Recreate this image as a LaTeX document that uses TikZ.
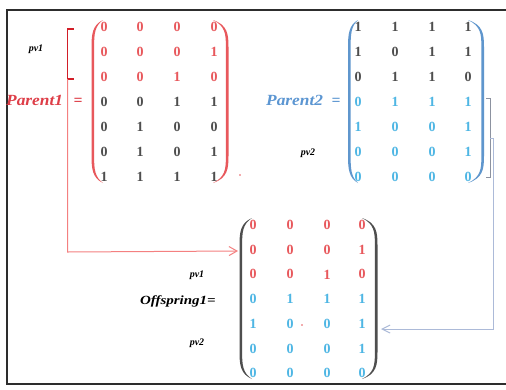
\documentclass[tikz,border=0pt]{standalone}
\usepackage{fontspec}
\setmainfont{Liberation Serif}
\usetikzlibrary{arrows.meta}
\definecolor{dred}{RGB}{232,88,92}
\definecolor{lred}{RGB}{222,62,72}
\definecolor{brred}{RGB}{210,30,40}
\definecolor{arred}{RGB}{244,128,128}
\definecolor{dgray}{RGB}{78,78,78}
\definecolor{dblue}{RGB}{78,182,228}
\definecolor{lblue}{RGB}{92,150,210}
\definecolor{pblue}{RGB}{95,150,205}
\definecolor{cblue}{RGB}{172,186,216}
\definecolor{bkgray}{RGB}{140,146,160}
\definecolor{frm}{RGB}{45,45,45}
\tikzset{
  dig/.style={inner sep=0pt,font=\fontsize{14}{14}\selectfont\bfseries},
  bigl/.style={inner sep=0pt,font=\fontsize{15.5}{15.5}\selectfont\bfseries\itshape},
  smalll/.style={inner sep=0pt,font=\fontsize{10}{10}\selectfont\bfseries\itshape,text=black},
  frameline/.style={draw=frm,line width=1.6pt},
  conn/.style={line width=1pt},
}
\newcommand\drawmat[5]{%
  \foreach \r/\a/\b/\c/\d/\cl in {#5} {
    \foreach \v [count=\j] in {\a,\b,\c,\d} {
      \pgfmathsetmacro\xx{{#2}[\j-1]}
      \node[dig,text=\cl] (#1-\r-\j) at (\xx,{#3+(\r-1)*#4}) {\v};
    }
  }%
}
% paren: #1 tip x, #2 bulge x, #3 top y, #4 bottom y, #5 colour, #6 direction (1 left, -1 right)
\newcommand\mparen[6]{%
  \fill[#5] (#1,#3) .. controls ({#2+#6*1},{#3+5}) and (#2,{#3+14}) .. (#2,{#3+27})
    -- (#2,{#4-27}) .. controls (#2,{#4-14}) and ({#2+#6*1},{#4-5}) .. (#1,#4)
    .. controls ({#2+#6*3.2},{#4-6}) and ({#2+#6*2.6},{#4-14}) .. ({#2+#6*2.6},{#4-27})
    -- ({#2+#6*2.6},{#3+27}) .. controls ({#2+#6*2.6},{#3+14}) and ({#2+#6*3.2},{#3+6}) .. cycle;%
}
\begin{document}
\begin{tikzpicture}[x=1pt,y=-1pt]
\useasboundingbox (0,0) rectangle (506,389);
\fill[white] (0,0) rectangle (506,389);
\draw[frameline] (506,10) -- (7,10) -- (7,384) -- (506,384);

% Parent1
\drawmat{pa}{104,140,177,214}{27}{25}{1/0/0/0/0/dred,2/0/0/0/1/dred,3/0/0/1/0/dred,4/0/0/1/1/dgray,5/0/1/0/0/dgray,6/0/1/0/1/dgray,7/1/1/1/1/dgray}
\mparen{103}{91.5}{20}{183}{dred}{1}
\mparen{213}{228.5}{20}{183}{dred}{-1}
% Parent2
\drawmat{pb}{358,395,432,468}{27}{25}{1/1/1/1/1/dgray,2/1/0/1/1/dgray,3/0/1/1/0/dgray,4/0/1/1/1/dblue,5/1/0/0/1/dblue,6/0/0/0/1/dblue,7/0/0/0/0/dblue}
\mparen{358}{348}{20}{183}{pblue}{1}
\mparen{468}{484}{20}{183}{pblue}{-1}
% Offspring1
\drawmat{po}{253,290,327,362}{225}{24.7}{1/0/0/0/0/dred,2/0/0/0/1/dred,3/0/0/1/0/dred,4/0/1/1/1/dblue,5/1/0/0/1/dblue,6/0/0/0/1/dblue,7/0/0/0/0/dblue}
\mparen{252}{239.5}{218}{379}{dgray}{1}
\mparen{362}{377.5}{218}{379}{dgray}{-1}

% labels
\node[smalll,anchor=base] (pv1a) at (36,51) {pv1};
\node[bigl,text=lred,anchor=base west] (lp1) at (6,105) {\scalebox{1.12}[1]{Parent1}};
\node[bigl,text=lred,anchor=base] (eq1) at (78,105) {=};
\node[bigl,text=lblue,anchor=base west] (lp2) at (266,105) {\scalebox{1.12}[1]{Parent2}};
\node[bigl,text=lblue,anchor=base] (eq2) at (336,105) {=};
\node[smalll,anchor=base] (pv2a) at (308,155) {pv2};
\node[smalll,anchor=base] (pv1b) at (197,277) {pv1};
\node[inner sep=0pt,font=\fontsize{12.5}{12.5}\selectfont\bfseries\itshape,anchor=base east] (lo) at (216,304) {\scalebox{1.2}[1]{Offspring1=}};
\node[smalll,anchor=base] (pv2b) at (197,345) {pv2};

% brackets
\draw[brred,line width=1.8pt] (73.5,29) -- (67.5,29) coordinate (bt) -- (67.5,79) coordinate (bb) -- (73.5,79);
\draw[bkgray,line width=1pt] (486,98) -- (490,98) -- (490,177) -- (486,177);
\coordinate (bm) at (490,138);

% connectors
\coordinate (oL) at (238,251);
\coordinate (oR) at (381,329);
\draw[arred,conn,-{Straight Barb[length=8pt,width=9pt]}] (bb) -- (67.5,252) -- (oL);
\draw[cblue,conn,-{Straight Barb[length=8pt,width=8pt]}] (bm) -- (493,138) -- (493,329) -- (oR);

% small stray dots
\fill[dred] (240,175) circle (0.8);
\fill[dred] (302,325) circle (0.9);
\end{tikzpicture}
\end{document}
